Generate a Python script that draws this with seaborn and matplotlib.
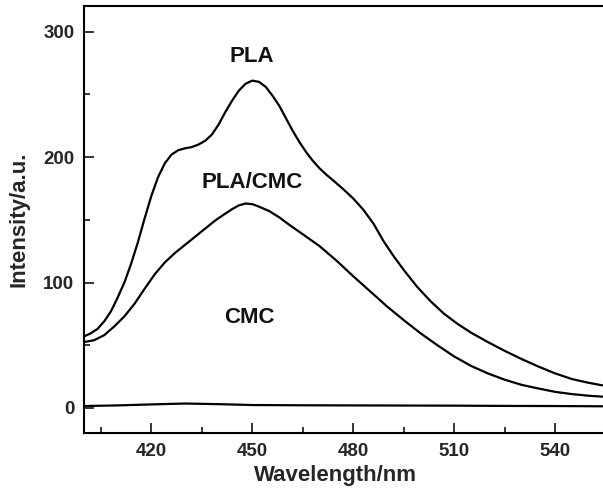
import matplotlib
matplotlib.use("Agg")
import matplotlib.pyplot as plt
import seaborn as sns
import pandas as pd
from matplotlib.ticker import MultipleLocator

# ---- data ----
pla_wl = [400, 402, 404, 406, 408, 410, 412, 414, 416, 418, 420, 422, 424, 426,
          428, 430, 432, 434, 436, 438, 440, 442, 444, 446, 448, 450, 452, 454,
          456, 458, 460, 462, 464, 466, 468, 470, 472, 474, 477, 480, 483, 486,
          489, 492, 495, 499, 503, 507, 511, 515, 520, 525, 530, 535, 540, 545,
          550, 554]
pla_int = [57, 59.5, 63, 69, 77, 88, 100, 115, 132, 151, 169, 184, 195, 202,
           205.5, 207, 208, 210, 213, 218, 226, 236, 245, 253, 258.5, 261, 260, 256,
           249, 241, 231, 221, 212, 204, 197, 191, 186, 181.5, 174.5, 167, 158, 147,
           133, 121, 110, 96.5, 85, 75, 67, 60, 52.5, 45.5, 39, 33, 27.5, 23,
           20, 18]

blend_wl = [400, 403, 406, 409, 412, 415, 418, 421, 424, 427, 430, 433, 436, 439,
            442, 444, 446, 448, 450, 452, 455, 458, 461, 465, 470, 475, 480, 485,
            490, 495, 500, 505, 510, 515, 520, 525, 530, 535, 540, 545, 550, 554]
blend_int = [52.5, 54, 58, 65, 73, 83, 95, 106.5, 116, 123.5, 130, 136.5, 143, 149.5,
             155, 158.5, 161.5, 163, 162.5, 160.5, 157, 152, 146, 138.5, 129, 117.5, 105,
             93, 81, 70, 59.5, 50, 41, 33.5, 27.5, 22.5, 18.4, 15.5, 12.8, 11, 9.7, 9]

cmc_wl = [400, 410, 420, 430, 440, 450, 465, 480, 495, 510, 525, 540, 554]
cmc_int = [1.5, 2, 2.8, 3.5, 3, 2.3, 2.1, 2, 1.9, 1.8, 1.6, 1.5, 1.3]

labels = ["PLA", "PLA/CMC", "CMC"]
label_pos = [(450, 280), (450, 180), (449, 72)]

xticks = [420, 450, 480, 510, 540]
yticks = [0, 100, 200, 300]

df = pd.concat([
    pd.DataFrame({"Wavelength": pla_wl, "Intensity": pla_int, "Sample": "PLA"}),
    pd.DataFrame({"Wavelength": blend_wl, "Intensity": blend_int, "Sample": "PLA/CMC"}),
    pd.DataFrame({"Wavelength": cmc_wl, "Intensity": cmc_int, "Sample": "CMC"}),
])

sns.set_style("ticks")
plt.rcParams["font.family"] = ["Liberation Sans", "DejaVu Sans"]
plt.rcParams["font.weight"] = "bold"

fig = plt.figure(figsize=(6.03, 4.96), dpi=100)
ax = fig.add_axes([84 / 603, 1 - 433 / 496, 1 - 84 / 603, (433 - 6) / 496])

sns.lineplot(data=df, x="Wavelength", y="Intensity", hue="Sample",
             palette={"PLA": "black", "PLA/CMC": "black", "CMC": "black"},
             linewidth=1.6, legend=False, ax=ax, sort=True)

for txt, (x, y) in zip(labels, label_pos):
    ax.text(x, y, txt, ha="center", va="center", fontsize=16, fontweight="bold",
            color="#111111")

ax.set_xlim(400, 554.2)
ax.set_ylim(-20, 320.5)
ax.set_xticks(xticks)
ax.set_yticks(yticks)
ax.xaxis.set_minor_locator(MultipleLocator(15))
ax.yaxis.set_minor_locator(MultipleLocator(50))
ax.tick_params(which="major", direction="in", length=7.5, width=1.3,
               labelsize=13.5, pad=7, top=False, right=False)
ax.tick_params(which="minor", direction="in", length=4.5, width=1.3,
               top=False, right=False)
for lab in ax.get_xticklabels() + ax.get_yticklabels():
    lab.set_fontweight("bold")

for s in ["left", "bottom", "top"]:
    ax.spines[s].set_linewidth(1.5)
    ax.spines[s].set_color("black")
ax.spines["right"].set_visible(False)

ax.set_xlabel("Wavelength/nm", fontsize=16, fontweight="bold", labelpad=7)
ax.set_ylabel("Intensity/a.u.", fontsize=16, fontweight="bold", labelpad=10)
ax.xaxis.set_label_coords((335 - 84) / 519, -0.075)

fig.savefig("out.png", dpi=100)
